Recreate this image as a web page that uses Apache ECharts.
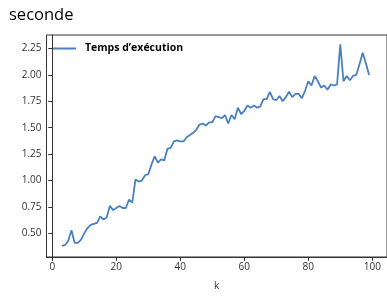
<!DOCTYPE html>
<html><head><meta charset="utf-8">
<script src="https://cdn.jsdelivr.net/npm/echarts@6/dist/echarts.min.js"></script>
<style>html,body{margin:0;padding:0;background:#fff}#c{width:387px;height:296px}</style>
</head><body><div id="c"></div>
<script>
const kValues = [3,4,5,6,7,8,9,10,11,12,13,14,15,16,17,18,19,20,21,22,23,24,25,26,27,28,29,30,31,32,33,34,35,36,37,38,39,40,41,42,43,44,45,46,47,48,49,50,51,52,53,54,55,56,57,58,59,60,61,62,63,64,65,66,67,68,69,70,71,72,73,74,75,76,77,78,79,80,81,82,83,84,85,86,87,88,89,90,91,92,93,94,95,96,97,98,99];
const times = [0.38,0.39,0.43,0.53,0.41,0.41,0.44,0.50,0.55,0.58,0.59,0.60,0.66,0.63,0.65,0.76,0.72,0.74,0.76,0.74,0.74,0.82,0.79,1.01,0.99,1.00,1.05,1.06,1.15,1.23,1.17,1.20,1.19,1.30,1.31,1.37,1.38,1.37,1.37,1.41,1.43,1.45,1.48,1.53,1.54,1.52,1.55,1.55,1.61,1.60,1.59,1.62,1.54,1.62,1.58,1.69,1.63,1.66,1.71,1.69,1.71,1.69,1.70,1.77,1.77,1.84,1.77,1.76,1.80,1.75,1.79,1.84,1.79,1.82,1.82,1.78,1.85,1.94,1.90,1.99,1.94,1.88,1.90,1.86,1.91,1.90,1.91,2.29,1.94,1.99,1.95,1.99,2.00,2.10,2.21,2.11,2.00];
const xTicks = [0,20,40,60,80,100];
const yTicks = [0.5,0.75,1.0,1.25,1.5,1.75,2.0,2.25];
const seriesName = "Temps d\u2019exécution";
const yTitle = "seconde";
const xTitle = "k";

const chart = echarts.init(document.getElementById('c'), null, {renderer:'canvas'});
const axisCol = '#333';
const labelStyle = {color:'#333', fontSize:10, fontFamily:'Open Sans'};
chart.setOption({
  animation:false,
  backgroundColor:'#fff',
  title:{text:yTitle, left:4, top:2, textStyle:{fontSize:16.5, fontWeight:'normal', color:'#000', fontFamily:'Open Sans'}},
  legend:{data:[seriesName], left:53, top:43, padding:0, icon:'rect', itemWidth:23, itemHeight:2,
    textStyle:{fontSize:10.5, fontWeight:'bold', color:'#000', fontFamily:'Open Sans', padding:[0,0,0,4]}},
  grid:{left:46.5, top:35, width:346, height:225, show:true, borderColor:axisCol, borderWidth:1, backgroundColor:'transparent'},
  xAxis:{type:'value', min:-1.8, max:104.6, name:xTitle, nameLocation:'middle', nameGap:24,
    nameTextStyle:{color:'#333', fontSize:10, fontFamily:'Open Sans'},
    axisLine:{show:true, lineStyle:{color:axisCol}}, splitLine:{show:false},
    axisTick:{show:true, length:4, lineStyle:{color:axisCol}, customValues:xTicks},
    axisLabel:{...labelStyle, margin:5, customValues:xTicks, formatter:v=>String(v)}},
  yAxis:{type:'value', min:0.276, max:2.378,
    axisLine:{show:true, lineStyle:{color:axisCol}}, splitLine:{show:false},
    axisTick:{show:true, length:4, lineStyle:{color:axisCol}, customValues:yTicks},
    axisLabel:{...labelStyle, margin:5, customValues:yTicks, formatter:v=>v.toFixed(2)}},
  series:[{name:seriesName, type:'line', symbol:'none', data:kValues.map((k,i)=>[k,times[i]]),
    lineStyle:{color:'#4a80c0', width:1.8}, itemStyle:{color:'#4a80c0'}}]
});
</script></body></html>
